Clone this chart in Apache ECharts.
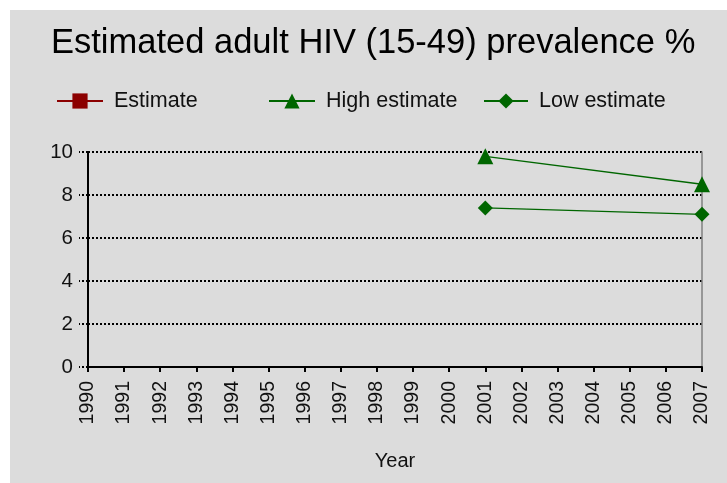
<!DOCTYPE html>
<html>
<head>
<meta charset="utf-8">
<script src="https://cdn.jsdelivr.net/npm/echarts@6/dist/echarts.min.js"></script>
<style>
  html, body { margin: 0; padding: 0; background: #fff; }
  #main { width: 727px; height: 483px; }
</style>
</head>
<body>
<div id="main"></div>
<script>
// 年份（x轴）
var years = ['1990','1991','1992','1993','1994','1995','1996','1997','1998',
             '1999','2000','2001','2002','2003','2004','2005','2006','2007'];
// Estimate: no values in the picture
var estimate = [null,null,null,null,null,null,null,null,null,
                null,null,null,null,null,null,null,null,null];
var highEstimate = [null,null,null,null,null,null,null,null,null,
                    null,null,9.8,null,null,null,null,null,8.5];
var lowEstimate = [null,null,null,null,null,null,null,null,null,
                   null,null,7.4,null,null,null,null,null,7.1];
var yTicks = [0, 10, 2]; // min, max, interval

var font = 'Liberation Sans, Arial, sans-serif';
var green = '#006600';
var legendText = { fontFamily: font, fontSize: 21.5, color: '#111', padding: [0, 0, 0, 6] };

var myChart = echarts.init(document.getElementById('main'));
var option = {
    backgroundColor: '#ffffff',
    animation: false,
    graphic: [{
        type: 'rect', z: -100,
        shape: { x: 10, y: 10, width: 717, height: 473 },
        style: { fill: '#dcdcdc' }
    }],
    title: {
        text: 'Estimated adult HIV (15-49) prevalence %',
        left: 46, top: 21,
        textStyle: { fontFamily: font, fontSize: 34.5, fontWeight: 'normal', color: '#000' }
    },
    legend: [
        { data: ['Estimate'], left: 56, top: 90, padding: 0, itemWidth: 46, itemHeight: 19, textStyle: legendText },
        { data: ['High estimate'], left: 268, top: 90, padding: 0, itemWidth: 46, itemHeight: 19, textStyle: legendText },
        { data: ['Low estimate'], left: 483, top: 90, padding: 0, itemWidth: 44, itemHeight: 19, textStyle: legendText }
    ],
    grid: { left: 88, right: 25, top: 152, bottom: 116 },
    xAxis: {
        type: 'category',
        data: years,
        boundaryGap: false,
        name: 'Year',
        nameLocation: 'middle',
        nameGap: 84,
        nameTextStyle: { fontFamily: font, fontSize: 20, color: '#111' },
        axisLine: { lineStyle: { color: '#000', width: 2 } },
        axisTick: { length: 5, lineStyle: { color: '#000', width: 2 } },
        axisLabel: { rotate: 90, margin: 14, fontFamily: font, fontSize: 19.5, color: '#111' }
    },
    yAxis: [{
        type: 'value',
        min: yTicks[0], max: yTicks[1], interval: yTicks[2],
        axisLine: { show: true, lineStyle: { color: '#000', width: 2 } },
        axisTick: { show: true, length: 9, lineStyle: { color: '#000', width: 2, type: [2, 2] } },
        axisLabel: { margin: 15, fontFamily: font, fontSize: 20.5, color: '#111' },
        splitLine: { show: true, lineStyle: { color: '#000', width: 2, type: [2, 2] } }
    }, {
        type: 'value', position: 'right',
        min: yTicks[0], max: yTicks[1], interval: yTicks[2],
        axisLine: { show: true, lineStyle: { color: '#808080', width: 1.5 } },
        axisTick: { show: false }, axisLabel: { show: false }, splitLine: { show: false }
    }],
    series: [{
        name: 'Estimate', type: 'line', data: estimate,
        symbol: 'rect', symbolSize: 12,
        itemStyle: { color: '#8b0000' },
        lineStyle: { color: '#8b0000', width: 2 }
    }, {
        name: 'High estimate', type: 'line', data: highEstimate,
        connectNulls: true,
        symbol: 'triangle', symbolSize: 16,
        itemStyle: { color: green },
        lineStyle: { color: green, width: 1.3 }
    }, {
        name: 'Low estimate', type: 'line', data: lowEstimate,
        connectNulls: true,
        symbol: 'diamond', symbolSize: 15,
        itemStyle: { color: green },
        lineStyle: { color: green, width: 1.3 }
    }]
};
myChart.setOption(option);
</script>
</body>
</html>
